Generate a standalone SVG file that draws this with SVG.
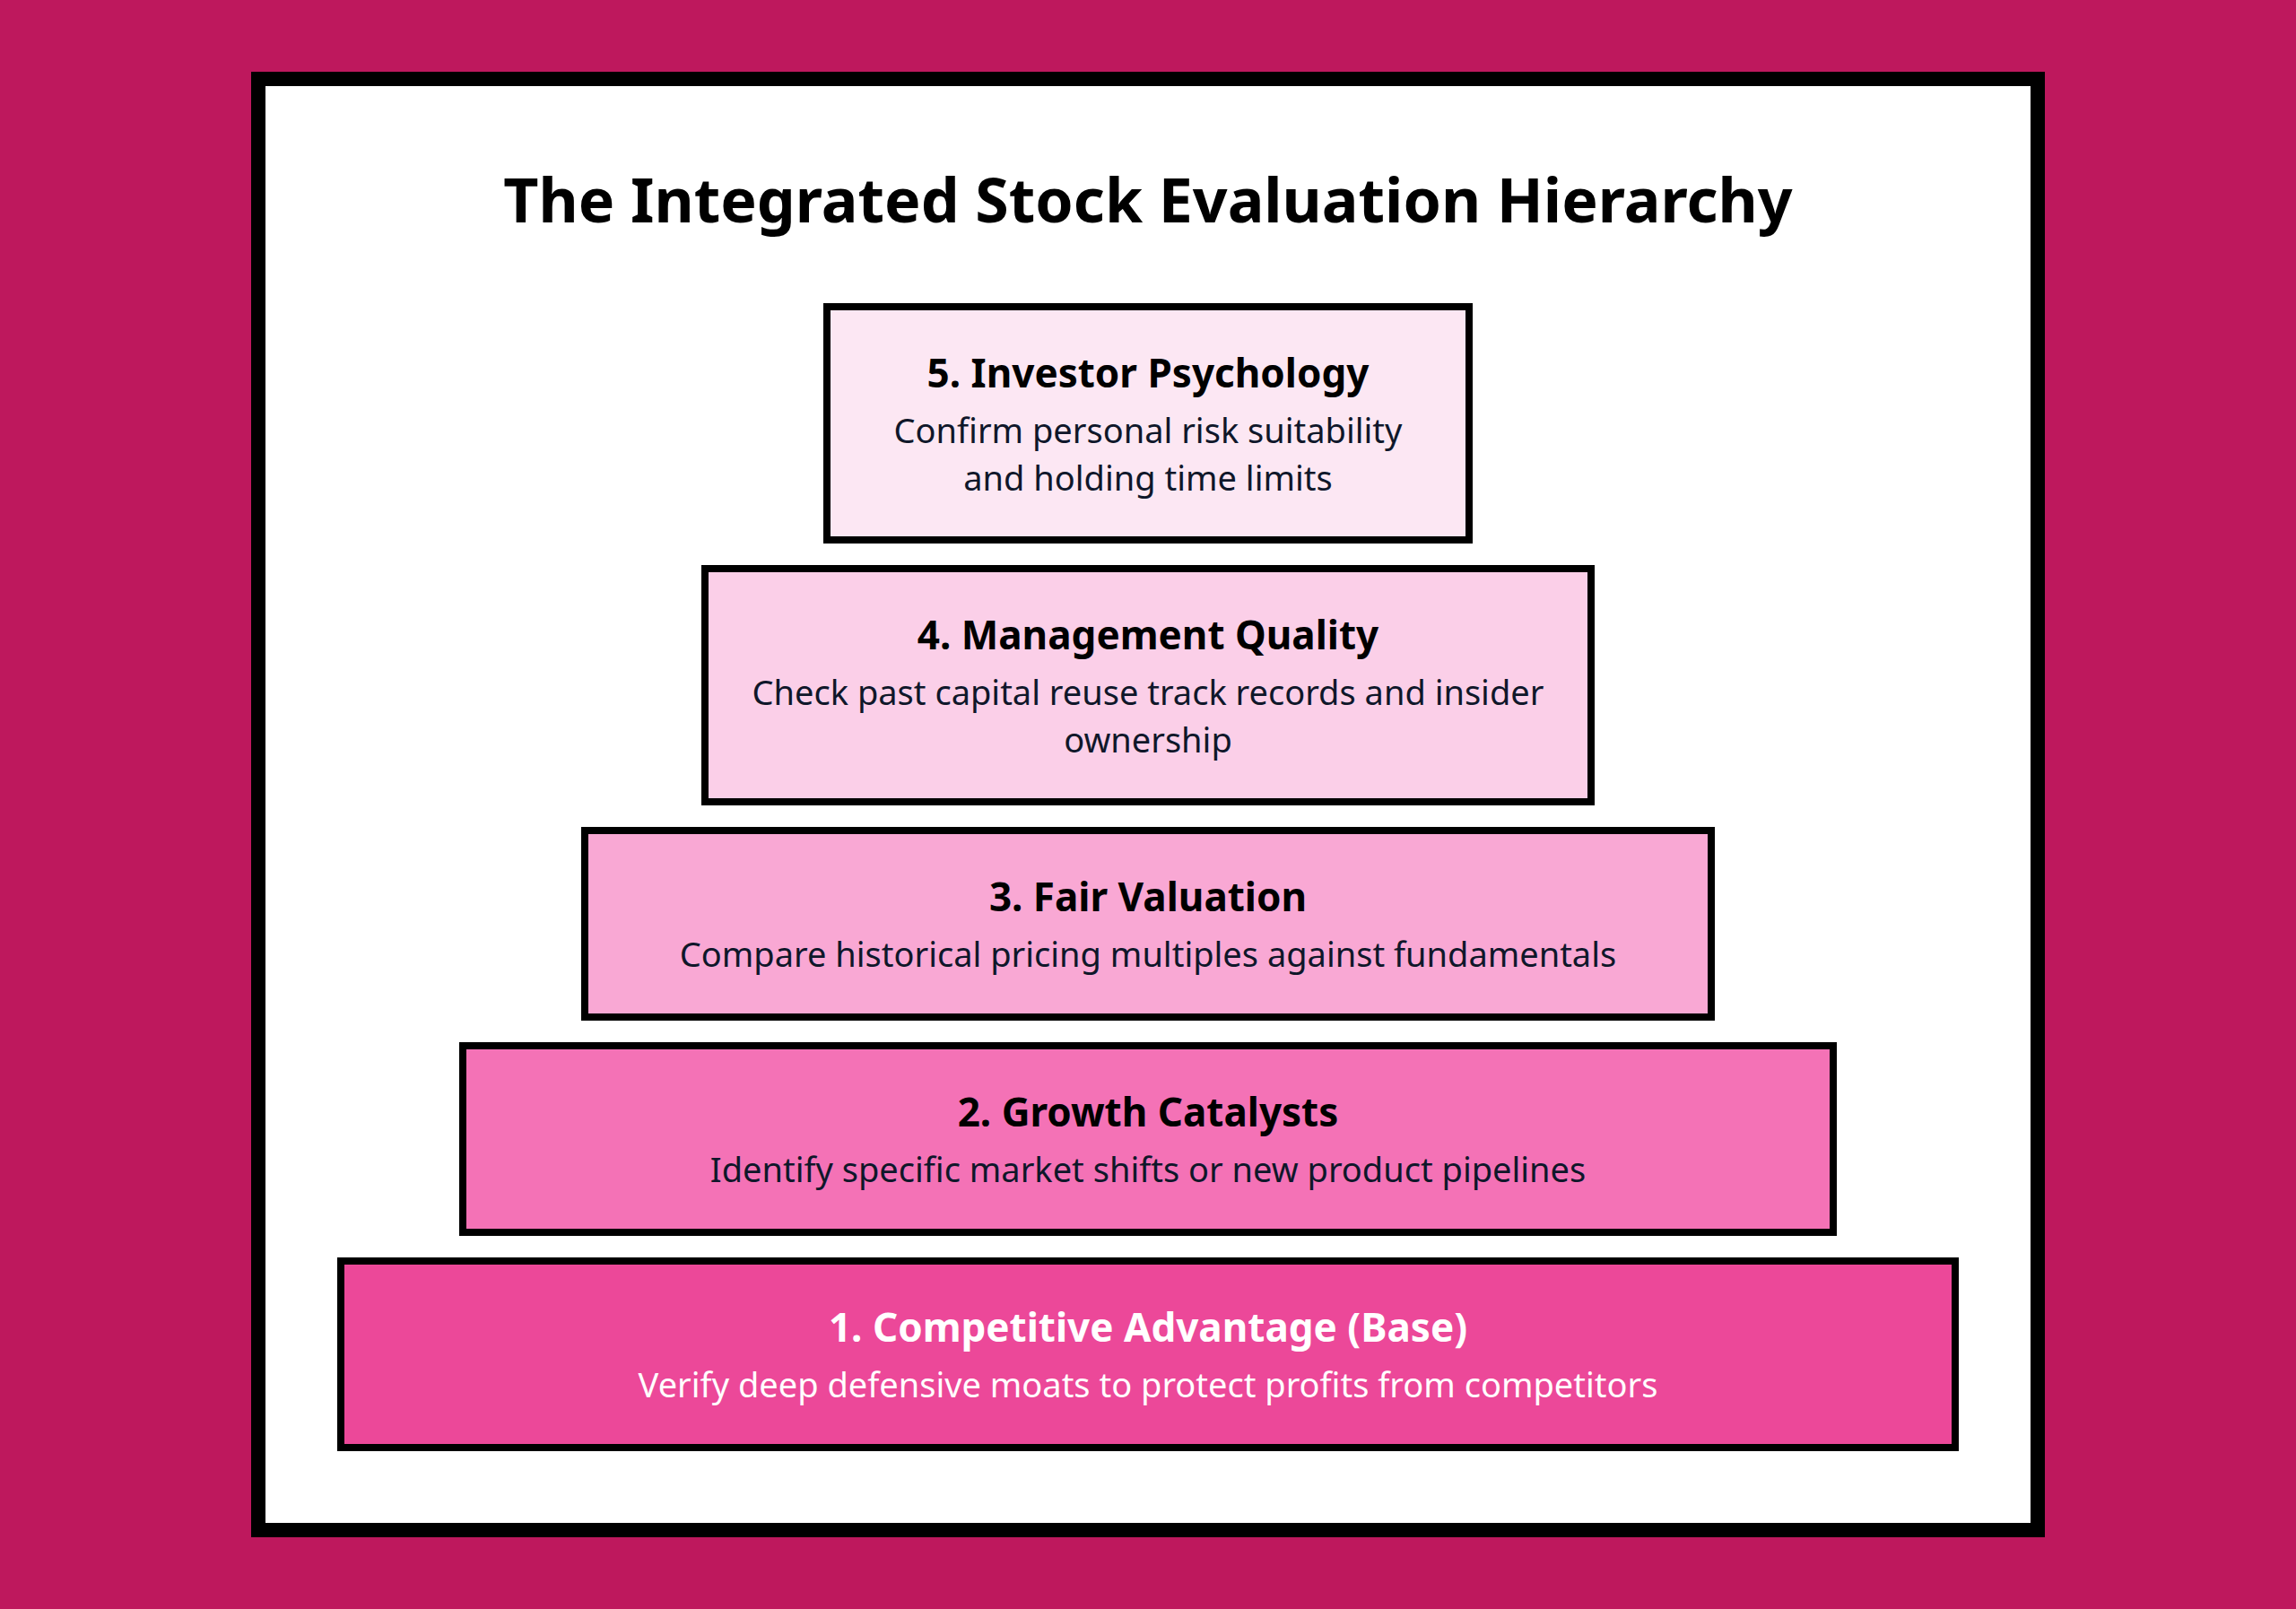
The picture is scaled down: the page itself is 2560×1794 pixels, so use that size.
<svg xmlns="http://www.w3.org/2000/svg" width="2560" height="1794" viewBox="0 0 2560 1794">
<style>
.box{stroke:#000;stroke-width:8}
.h{font-family:"Noto Sans",sans-serif;font-weight:700;font-size:44px;text-anchor:middle;fill:#000}
.d{font-family:"Noto Sans",sans-serif;font-weight:400;font-size:38px;text-anchor:middle;fill:#0f172a}
.w{fill:#fff}
.title{font-family:"Noto Sans",sans-serif;font-weight:700;font-size:68px;text-anchor:middle;fill:#000}
</style>
<rect x="0" y="0" width="2560" height="1794" fill="#be185d"/>
<rect x="288" y="88" width="1984" height="1618" fill="#fff" stroke="#000" stroke-width="16"/>
<text class="title" x="1280" y="248">The Integrated Stock Evaluation Hierarchy</text>
<g id="connectors"></g>
<g id="level5">
<rect class="box" x="922" y="342" width="716" height="260" fill="#fce7f3"/>
<text class="h" x="1280" y="432">5. Investor Psychology</text>
<text class="d" x="1280" y="494">Confirm personal risk suitability</text>
<text class="d" x="1280" y="547">and holding time limits</text>
</g>
<g id="level4">
<rect class="box" x="786" y="634" width="988" height="260" fill="#fbcfe8"/>
<text class="h" x="1280" y="724">4. Management Quality</text>
<text class="d" x="1280" y="786">Check past capital reuse track records and insider</text>
<text class="d" x="1280" y="839">ownership</text>
</g>
<g id="level3">
<rect class="box" x="652" y="926" width="1256" height="208" fill="#f9a8d4"/>
<text class="h" x="1280" y="1016">3. Fair Valuation</text>
<text class="d" x="1280" y="1078">Compare historical pricing multiples against fundamentals</text>
</g>
<g id="level2">
<rect class="box" x="516" y="1166" width="1528" height="208" fill="#f472b6"/>
<text class="h" x="1280" y="1256">2. Growth Catalysts</text>
<text class="d" x="1280" y="1318">Identify specific market shifts or new product pipelines</text>
</g>
<g id="level1">
<rect class="box" x="380" y="1406" width="1800" height="208" fill="#ec4899"/>
<text class="h w" x="1280" y="1496">1. Competitive Advantage (Base)</text>
<text class="d w" x="1280" y="1558">Verify deep defensive moats to protect profits from competitors</text>
</g>
</svg>
